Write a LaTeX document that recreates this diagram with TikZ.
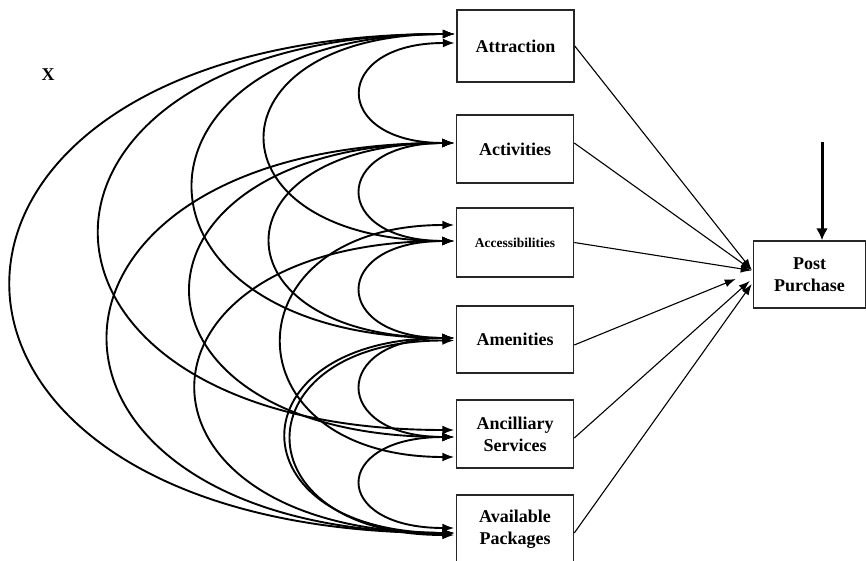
\documentclass[tikz,border=0pt]{standalone}
\usepackage{fontspec}
\setmainfont{Liberation Serif}
\usetikzlibrary{arrows.meta,calc}
\begin{document}
\begin{tikzpicture}[x=1pt,y=-1pt,
  box/.style={draw=black!85, line width=1.5pt, minimum width=117pt, minimum height=68pt,
    inner sep=0pt, align=center, font=\bfseries\fontsize{18}{22}\selectfont},
  corr/.style={line width=1.9pt, {Latex[length=12pt,width=9pt]}-{Latex[length=12pt,width=9pt]}},
  effect/.style={line width=1.1pt, -{Latex[length=11pt,width=8pt]}},
  cause/.style={line width=3pt, -{Latex[length=12pt,width=12pt]}},
]
\useasboundingbox (0,0) rectangle (866,561);

% construct boxes
\node[box, minimum height=72pt] (attr) at (515.5,46) {Attraction};
\node[box] (act) at (515,149) {Activities};
\node[box, minimum height=69pt, font=\bfseries\fontsize{13.5}{16}\selectfont] (acc) at (515,242.5) {Accessibilities};
\node[box, minimum height=67pt] (amen) at (515,339.5) {Amenities};
\node[box] (anc) at (515,434) {Ancilliary\\Services};
\node[box] (avail) at (515,529) {Available\\Packages};
\node[box, minimum width=112pt, minimum height=67pt] (post) at (809.5,274.5) {Post\\Purchase};

\node[font=\bfseries\fontsize{18}{22}\selectfont] (xlab) at (48,75) {X};

% correlation arcs: from box, offset, to box, offset, control reach
\newcommand\corrarc[5]{\draw[corr] ($(#1.west)+(-1.5,#2)$) .. controls +(-#5,0) and +(-#5,0) .. ($(#3.west)+(-1.5,#4)$);}

% neighbours
\corrarc{attr}{-3}{act}{-6}{124}
\corrarc{act}{-6}{acc}{-1.5}{124}
\corrarc{acc}{-1.5}{amen}{-1.5}{124}
\corrarc{amen}{-1.5}{anc}{3}{124}
\corrarc{anc}{3}{avail}{-1}{124}
% two apart
\corrarc{attr}{-12}{acc}{-1.5}{251}
\corrarc{act}{-6}{amen}{-1.5}{244}
\corrarc{acc}{-17.5}{anc}{23}{229}
\corrarc{amen}{-1.5}{avail}{4}{223}
\corrarc{amen}{1}{avail}{6}{216}
% three apart
\corrarc{attr}{-12}{amen}{-1.5}{347}
\corrarc{act}{-6}{anc}{3}{350}
\corrarc{acc}{-1.5}{avail}{4}{343}
% four apart
\corrarc{attr}{-12}{anc}{-4}{472}
\corrarc{act}{-6}{avail}{4}{460}
% five apart
\corrarc{attr}{-12}{avail}{4}{590}

% paths to post purchase
\draw[effect] (attr.east) -- ($(post.west)+(-1,-4.5)$);
\draw[effect] ($(act.east)+(0,-6)$) -- ($(post.west)+(-1,-4.5)$);
\draw[effect] (acc.east) -- ($(post.west)+(-1,-4)$);
\draw[effect] ($(amen.east)+(0,5.5)$) -- ($(post.west)+(-17,4.5)$);
\draw[effect] ($(anc.east)+(0,4)$) -- ($(post.west)+(-3,6.5)$);
\draw[effect] ($(avail.east)+(0,4)$) -- ($(post.west)+(-1,9.5)$);

% external input
\coordinate (xin) at (822,142);
\draw[cause] (xin) -- (xin |- post.north);
\end{tikzpicture}
\end{document}
